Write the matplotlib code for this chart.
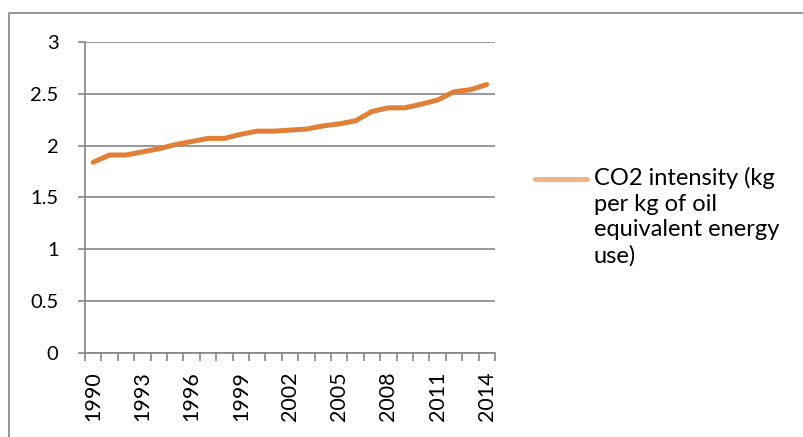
import numpy as np
import matplotlib
matplotlib.use("Agg")
import matplotlib.pyplot as plt
from matplotlib.lines import Line2D

years = list(range(1990, 2015))
co2_intensity = [1.84, 1.91, 1.91, 1.94, 1.97, 2.01, 2.04, 2.07, 2.07, 2.11,
                 2.14, 2.14, 2.15, 2.16, 2.19, 2.21, 2.24, 2.33, 2.365, 2.365,
                 2.40, 2.44, 2.52, 2.54, 2.59]
series_label = "CO2 intensity (kg\nper kg of oil\nequivalent energy\nuse)"

plt.rcParams['font.family'] = ['Lato', 'DejaVu Sans']
grey = '#868686'

fig = plt.figure(figsize=(8.04, 4.37), dpi=100)
W, H = 804, 437
ax = fig.add_axes([85 / W, 1 - 353 / H, 410 / W, 311 / H])

x = np.arange(len(years))
ax.plot(x, co2_intensity, color='#E07F37', lw=3.6, solid_capstyle='round',
        solid_joinstyle='round', zorder=3)

ax.set_xlim(-0.5, len(years) - 0.5)
ax.set_ylim(0, 3)
ax.set_yticks(np.arange(0, 3.01, 0.5))
ax.set_yticklabels(['0', '0.5', '1', '1.5', '2', '2.5', '3'])
ax.grid(axis='y', color=grey, lw=1.2)
ax.set_axisbelow(True)

# category boundaries as major ticks, labels every 3 years as minor ticks
ax.set_xticks(np.arange(-0.5, len(years), 1.0))
ax.set_xticklabels([])
ax.set_xticks(x[::3], minor=True)
ax.set_xticklabels([str(y) for y in years[::3]], minor=True, rotation=90,
                   fontsize=15.5)
ax.tick_params(axis='x', which='major', length=6, color=grey, width=1.2)
ax.tick_params(axis='x', which='minor', length=0, pad=13)
ax.tick_params(axis='y', length=5, color=grey, width=1.2, labelsize=14.5,
               pad=14)

for s in ['top', 'right']:
    ax.spines[s].set_visible(False)
for s in ['left', 'bottom']:
    ax.spines[s].set_color(grey)
    ax.spines[s].set_linewidth(1.2)

# legend drawn to the right, Excel-style
fig.add_artist(Line2D([535 / W, 587 / W], [1 - 179 / H, 1 - 179 / H],
                      color='#F4B183', lw=3.6, solid_capstyle='round'))
fig.text(594 / W, 1 - 167 / H, series_label, fontsize=17, va='top',
         ha='left', linespacing=1.27)

# outer chart border (top and left visible)
fig.add_artist(Line2D([8.5 / W, 8.5 / W, 1.0], [0, 1 - 12.5 / H, 1 - 12.5 / H],
                      color=grey, lw=1.2))

fig.savefig('out.png', dpi=100)
